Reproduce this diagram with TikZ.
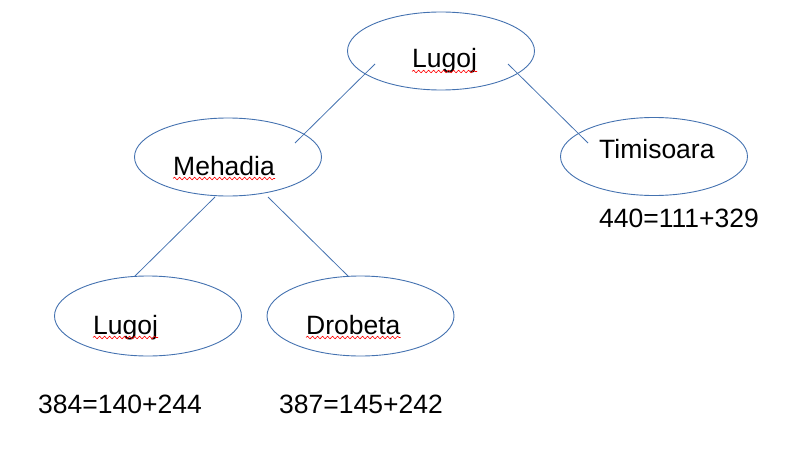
\documentclass[tikz,border=0pt]{standalone}
\usepackage{fontspec}
\setmainfont{Liberation Sans}
\usetikzlibrary{shapes.geometric,calc,decorations.pathmorphing}
\definecolor{edgeblue}{RGB}{68,114,176}
\begin{document}
\begin{tikzpicture}[x=1pt,y=-1pt,
  oval/.style={ellipse,draw=edgeblue,line width=0.9pt,inner sep=0pt,minimum width=187pt,minimum height=78pt},
  lbl/.style={anchor=base west,inner sep=0pt,font=\fontsize{26.5}{30}\selectfont},
  link/.style={draw=edgeblue,line width=0.8pt},
  spell/.style={draw=red,line width=0.6pt,decorate,decoration={snake,segment length=5pt,amplitude=1.3pt}}]
\useasboundingbox (0,0) rectangle (798,460);
% ellipses
\node[oval] (top) at (441,51) {};
\node[oval] (meh) at (228,157) {};
\node[oval] (tim) at (654,156.5) {};
\node[oval,minimum height=80pt] (lug) at (148,316) {};
\node[oval,minimum height=80pt] (dro) at (360.5,316) {};
% labels
\node[lbl] (tTop) at (412,68) {Lugoj};
\node[lbl] (tMeh) at (173,175) {Mehadia};
\node[lbl] (tTim) at (599,158) {Timisoara};
\node[lbl] (tLug) at (93,334) {Lugoj};
\node[lbl] (tDro) at (306,334) {Drobeta};
\node[lbl] (vTim) at (599,227) {440=111+329};
\node[lbl] (vLug) at (38,413) {384=140+244};
\node[lbl] (vDro) at (279,413) {387=145+242};
% spell-check underlines
\foreach \w in {tTop,tMeh,tLug,tDro}{
  \draw[spell] ($(\w.base west)+(0,3.5)$) -- ($(\w.base east)+(0,3.5)$);
}
% connectors
\coordinate (a1) at ($(top)+(-66,13)$);
\coordinate (a2) at ($(meh)+(67,-14)$);
\coordinate (b1) at ($(top)+(67,13)$);
\coordinate (b2) at ($(tim)+(-66,-13.5)$);
\coordinate (c1) at ($(meh)+(-13,40)$);
\coordinate (c2) at ($(lug)+(-13,-40)$);
\coordinate (d1) at ($(meh)+(40,40)$);
\coordinate (d2) at ($(dro)+(-12.5,-40)$);
\draw[link] (a1) -- (a2);
\draw[link] (b1) -- (b2);
\draw[link] (c1) -- (c2);
\draw[link] (d1) -- (d2);
\end{tikzpicture}
\end{document}
